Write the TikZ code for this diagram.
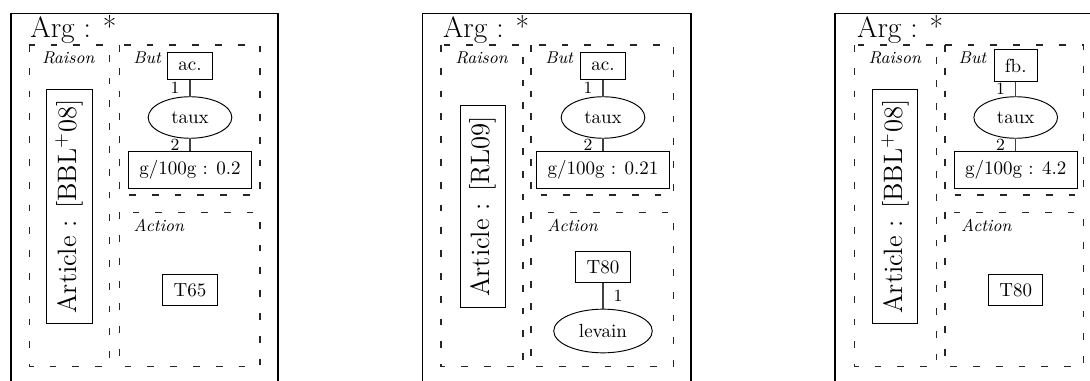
\documentclass[tikz,border=0pt]{standalone}
\usepackage{fontspec}
\usetikzlibrary{shapes.geometric}
\begin{document}
\begin{tikzpicture}[x=0.5263pt,y=-0.5263pt,
  outerbox/.style={draw, line width=0.65pt},
  dbox/.style={draw=black!85, line width=0.6pt, dash pattern=on 3.6pt off 8.4pt},
  nbox/.style={draw, rectangle, line width=0.5pt, inner xsep=5.7pt, inner ysep=4.6pt, font=\fontsize{10}{12}\selectfont},
  nell/.style={nbox, ellipse},
  artbox/.style={draw, rectangle, line width=0.5pt, rotate=90, inner xsep=5.4pt, inner ysep=4.8pt, font=\fontsize{14}{17}\selectfont},
  lab/.style={font=\fontsize{9}{11}\selectfont\itshape, anchor=base west, inner sep=0pt},
  num/.style={font=\fontsize{9}{11}\selectfont, inner sep=0pt},
  conn/.style={draw=black!75, line width=0.65pt},
  argtitle/.style={font=\fontsize{15.5}{18}\selectfont, anchor=base west, inner sep=0pt}]
\useasboundingbox (0,0) rectangle (1090,381);
\clip (0,0) rectangle (1090,381);

% ---------- Panel 1 ----------
\draw[outerbox] (11,13.3) rectangle (278,420);
\node[argtitle] (arg1) at (30,37.7) {Arg : *};
\draw[dbox] (29.3,45) rectangle (109.3,366.7);
\node[lab] (rai1) at (41.7,63.3) {Raison};
\draw[dbox] (119.3,45) rectangle (260,195);
\node[lab] (but1) at (133,63.3) {But};
\draw[dbox] (119.3,212.3) rectangle (260,366.7);
\node[lab] (act1) at (133.3,232) {Action};
\node[nbox] (ac1) at (190,66) {ac.};
\node[nell] (taux1) at (190,117.5) {taux};
\node[nbox] (g1) at (190,170) {g/100g : 0.2};
\node[nbox] (t1) at (190,290) {T65};
\node[artbox] (art1) at (69.2,206.5) {Article : [BBL$^{+}$08]};
\draw[conn] (ac1) -- node[num,left=5.3pt] (n11) {1} (taux1);
\draw[conn] (taux1) -- node[num,left=5.3pt] (n12) {2} (g1);

% ---------- Panel 2 ----------
\draw[outerbox] (422.7,13.3) rectangle (691,420);
\node[argtitle] (arg2) at (442.7,37.7) {Arg : *};
\draw[dbox] (441,45) rectangle (523,366.7);
\node[lab] (rai2) at (455,63.3) {Raison};
\draw[dbox] (531,45) rectangle (673.3,195);
\node[lab] (but2) at (545,63.3) {But};
\draw[dbox] (531,212.3) rectangle (673.3,366.7);
\node[lab] (act2) at (547,232) {Action};
\node[nbox] (ac2) at (603,66) {ac.};
\node[nell] (taux2) at (603,117.5) {taux};
\node[nbox] (g2) at (603,170) {g/100g : 0.21};
\node[nbox] (t2) at (603,267.3) {T80};
\node[nell] (lev2) at (603,331) {levain};
\node[artbox] (art2) at (482.7,206.3) {Article : [RL09]};
\draw[conn] (ac2) -- node[num,left=5.3pt] (n21) {1} (taux2);
\draw[conn] (taux2) -- node[num,left=5.3pt] (n22) {2} (g2);
\draw[conn] (t2) -- node[num,right=5.2pt] (n23) {1} (lev2);

% ---------- Panel 3 ----------
\draw[outerbox] (835,13.3) rectangle (1104,420);
\node[argtitle] (arg3) at (856.7,37.7) {Arg : *};
\draw[dbox] (854.3,45) rectangle (936.7,366.7);
\node[lab] (rai3) at (868.3,63.3) {Raison};
\draw[dbox] (945,45) rectangle (1083.3,195);
\node[lab] (but3) at (958.3,63.3) {But};
\draw[dbox] (945,212.3) rectangle (1083.3,366.7);
\node[lab] (act3) at (960.7,232) {Action};
\node[nbox] (ac3) at (1015.7,65.5) {fb.};
\node[nell] (taux3) at (1015.7,117.5) {taux};
\node[nbox] (g3) at (1015.7,170) {g/100g : 4.2};
\node[nbox] (t3) at (1015.7,290) {T80};
\node[artbox] (art3) at (895,206.5) {Article : [BBL$^{+}$08]};
\draw[conn] (ac3) -- node[num,left=5.3pt] (n31) {1} (taux3);
\draw[conn] (taux3) -- node[num,left=5.3pt] (n32) {2} (g3);
\end{tikzpicture}
\end{document}
